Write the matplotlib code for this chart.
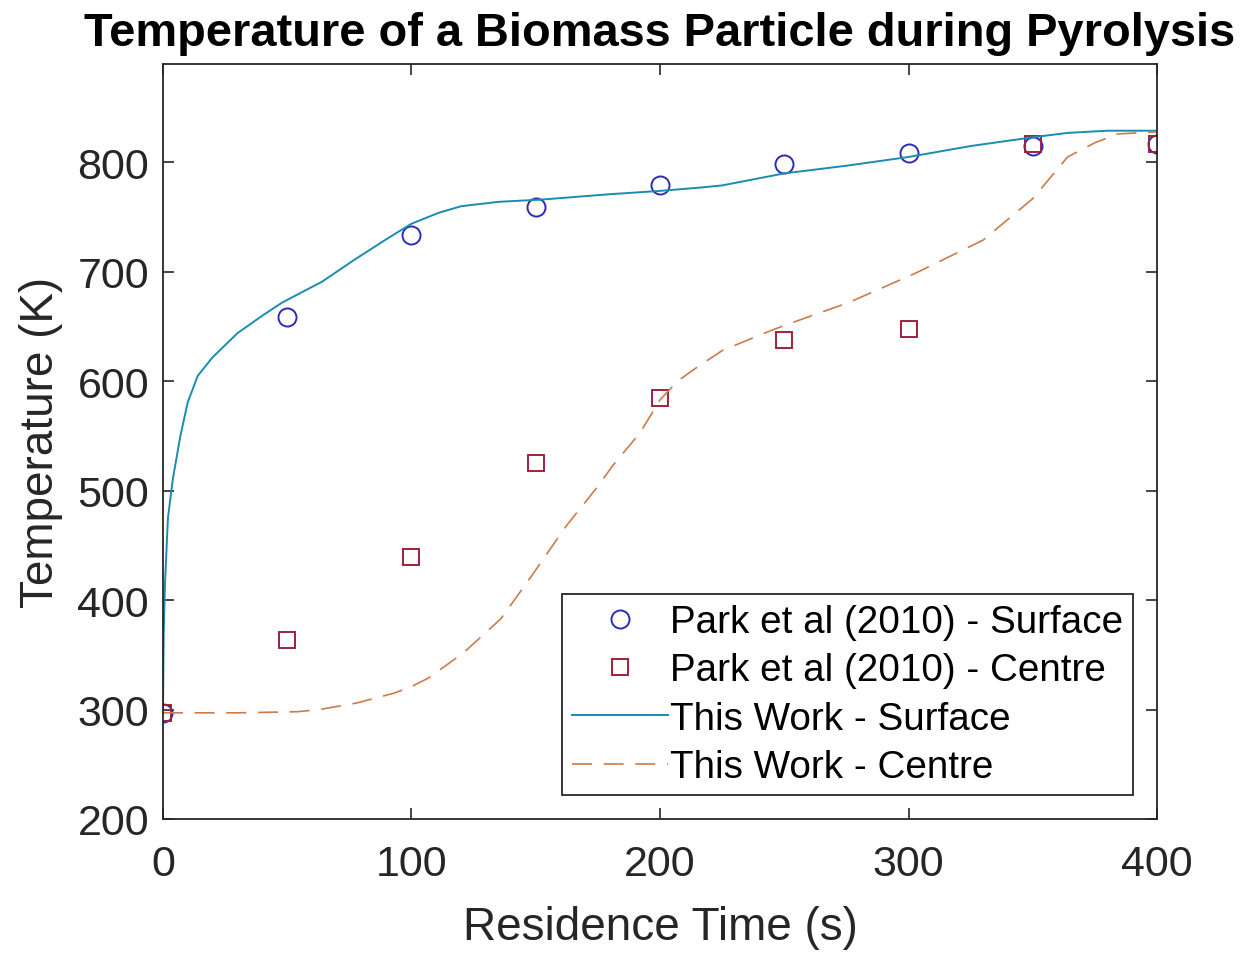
import numpy as np
import matplotlib
matplotlib.use("Agg")
import matplotlib.pyplot as plt

plt.rcParams['font.family'] = ['Liberation Sans', 'DejaVu Sans']

# experimental data (Park et al 2010)
t_exp = [0, 50, 100, 150, 200, 250, 300, 350, 400]
T_exp_surface = [297, 659, 734, 759, 779, 799, 809, 815, 817]
T_exp_centre = [297, 364, 439, 525, 585, 638, 648, 817, 817]

# model results (this work)
t_mod_surface = [0, 0.3, 0.8, 2, 4, 7, 10, 14, 20, 30, 40, 48, 64, 77, 90, 100, 111,
                 120, 135, 152, 180, 200, 216, 225, 250, 275, 300, 325, 350, 364, 380, 400]
T_mod_surface = [297, 370, 414, 475, 511, 550, 581, 605, 622, 644, 660, 672, 691, 711, 730, 744, 754,
                 760, 764, 766, 771, 774, 777, 779, 790, 797, 805, 815, 823, 827, 829, 829]

t_mod_centre = [0, 30, 54, 63, 78, 93, 100, 107, 121, 136, 148, 162, 175, 181, 192, 200,
                207, 215, 225, 242, 250, 276, 303, 330, 350, 364, 375, 384, 400]
T_mod_centre = [297, 297, 298, 300, 306, 315, 321, 329, 352, 383, 421, 467, 504, 523, 553, 583,
                600, 613, 628, 644, 651, 672, 699, 729, 767, 805, 818, 826, 828]

fig = plt.figure(figsize=(12.42, 9.54), dpi=100)
ax = fig.add_axes([0.1312, 0.1405, 0.8004, 0.7914])

ax.plot(t_exp, T_exp_surface, 'o', ls='none', mfc='none', mec='#2b2bb8', ms=13, mew=1.4,
        label='Park et al (2010) - Surface')
ax.plot(t_exp, T_exp_centre, 's', ls='none', mfc='none', mec='#a0203a', ms=11, mew=1.4,
        label='Park et al (2010) - Centre')
ax.plot(t_mod_surface, T_mod_surface, color='#1a8cb0', lw=1.4, label='This Work - Surface')
ax.plot(t_mod_centre, T_mod_centre, color='#cf7a48', lw=1.2, ls=(0, (12, 7)),
        label='This Work - Centre')

ax.set_xlim(0, 400)
ax.set_ylim(200, 890)
ax.set_xticks(np.arange(0, 401, 100))
ax.set_yticks(np.arange(200, 801, 100))
ax.tick_params(direction='in', length=8, width=1.2, top=True, right=True,
               labelsize=31, colors='#262626', pad=10)
ax.tick_params(axis='x', pad=18)
for s in ax.spines.values():
    s.set_color('#262626')
    s.set_linewidth(1.3)

ax.set_xlabel('Residence Time (s)', fontsize=33, color='#262626', labelpad=15)
ax.set_ylabel('Temperature (K)', fontsize=33, color='#262626', labelpad=10)
ax.set_title('Temperature of a Biomass Particle during Pyrolysis', fontsize=33.8,
             fontweight='bold', pad=14)

leg = ax.legend(loc='lower right', bbox_to_anchor=(0.976, 0.032), fontsize=27.8,
                fancybox=False, framealpha=1, edgecolor='#262626', handlelength=2.5,
                handletextpad=0.05, labelspacing=0.32, borderpad=0.25, borderaxespad=0)
leg.get_frame().set_linewidth(1.3)

fig.savefig('out.png', dpi=100)
